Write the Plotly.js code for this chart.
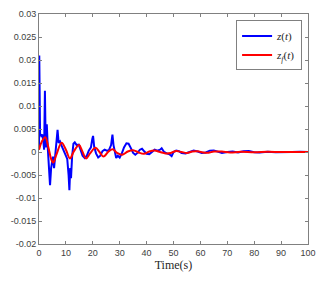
<!DOCTYPE html>
<html><head><meta charset="utf-8">
<script src="https://cdn.plot.ly/plotly-3.0.1.min.js"></script>
<style>html,body{margin:0;padding:0;background:#fff;}#chart{width:327px;height:286px;}</style>
</head><body><div id="chart"></div>
<script>
// Time samples and values for z(t) (blue)
var tZ = [0,0.1,0.4,0.8,1.2,1.6,1.9,2.2,2.5,2.9,3.3,3.7,4.1,4.5,4.8,5.2,5.6,6.0,6.5,6.9,7.3,7.8,8.3,9,9.8,10.5,11.0,11.3,11.6,11.9,12.3,12.8,13.3,14,14.8,15.5,16.2,17,17.8,18.5,19.3,19.8,20.1,20.5,21.2,22,22.8,23.6,24.4,25.2,26,26.8,27.3,27.7,28.2,28.7,29.3,30,30.8,31.6,32.5,33.3,34.2,35,35.8,36.6,37.5,38.3,39.2,40,41,42,43,44,45,45.6,46.5,47.5,48.5,49.3,50,51,52,53,54.5,56,57.5,59,60.5,62,63.5,65,66.5,68,70,72,74,76,78,80,82,85,88,91,94,97,100];
var zVals = [0.0008,0.021,0.004,0.0035,0.0038,0.0025,0.0005,0.0133,0.001,0.006,0.0005,-0.004,-0.0072,-0.0035,-0.002,-0.001,-0.0035,-0.001,0.0025,0.0048,0.002,0.0023,0.0015,0.0005,-0.0005,-0.0015,-0.005,-0.0083,-0.0035,-0.0057,-0.001,0.0018,0.0021,0.0015,0.0016,0.0005,-0.0008,-0.0013,-0.0008,0.0003,0.001,0.0028,0.0035,0.0012,-0.0003,-0.0012,-0.0008,0.0002,0.0005,0.0003,0.0004,0.0015,0.0038,0.0015,0.0003,-0.0013,-0.0008,-0.0012,-0.0003,0.001,0.0019,0.0018,0.0008,-0.0002,-0.0006,-0.0002,0.0005,0.0007,0.0001,-0.0004,-0.0005,0.0,0.0005,0.0003,0.0005,0.0008,0.0,-0.0003,-0.0005,-0.0009,0.0,0.0003,0.0002,-0.0002,-0.0003,0.0,0.0003,0.0001,-0.0002,-0.0001,0.0003,0.00035,0.0,-0.0002,0.0,0.0001,-0.0001,0.00015,0.0002,-0.00005,-0.0001,0.00005,-0.00005,0.00005,0.0,0.00005,0.0];
// Time samples and values for z_f(t) (red)
var tZf = [0,1,2.3,3.5,4.5,5.3,6.5,8.4,10,11.5,13,14.9,16,17.5,19,21,22.5,24,26,27.5,29,31,33,35,37,39,41,43,45,47,49,51,53,55,57,59,61,63,65,68,71,75,80,85,90,95,100];
var zfVals = [0.0005,0.0022,0.0032,0.001,-0.0015,-0.0023,-0.0005,0.002,0.0005,-0.0014,0.0002,0.0015,0.0003,-0.0014,-0.0003,0.0009,0.0,-0.001,0.0002,0.0006,-0.0002,-0.0006,0.0001,0.0004,-0.0001,-0.0004,0.0001,0.0003,0.0,-0.0003,-0.0002,0.0002,0.0,-0.0002,0.0001,0.00015,-0.0001,-0.00015,0.0001,0.0001,-0.0001,0.00005,-0.00005,0.00005,0.0,0.00002,0.0];
var xTicks = [0,10,20,30,40,50,60,70,80,90,100];
var yTicks = [-0.02,-0.015,-0.01,-0.005,0,0.005,0.01,0.015,0.02,0.025,0.03];
var yTickText = ['-0.02','-0.015','-0.01','-0.005','0','0.005','0.01','0.015','0.02','0.025','0.03'];

var traces = [
  {x:tZ, y:zVals, type:'scatter', mode:'lines', name:'<i>z</i>(<i>t</i>)',
   line:{color:'#0000ff', width:2}},
  {x:tZf, y:zfVals, type:'scatter', mode:'lines', name:'<i>z<sub>f</sub></i>(<i>t</i>)',
   line:{color:'#ff0000', width:2, shape:'spline', smoothing:1}}
];
var axisCommon = {showgrid:false, zeroline:false, showline:true, mirror:'ticks',
  linecolor:'#808080', linewidth:1, ticks:'inside', ticklen:3, tickcolor:'#808080',
  tickfont:{family:'Liberation Sans, Arial, sans-serif', size:9, color:'#404040'}};
var layout = {
  width:327, height:286,
  margin:{l:39, r:19, t:14, b:42},
  paper_bgcolor:'#fff', plot_bgcolor:'#fff',
  showlegend:true,
  xaxis: Object.assign({}, axisCommon, {range:[0,100], tickvals:xTicks,
     title:{text:'Time(s)', font:{family:'Liberation Serif, DejaVu Serif, serif', size:12, color:'#262626'}, standoff:2}}),
  yaxis: Object.assign({}, axisCommon, {range:[-0.02,0.03], tickvals:yTicks, ticktext:yTickText}),
  legend:{x:0.978, y:0.972, xanchor:'right', yanchor:'top', bgcolor:'#fff',
    bordercolor:'#808080', borderwidth:1,
    font:{family:'Liberation Serif, DejaVu Serif, serif', size:11, color:'#262626'},
    tracegroupgap:0, itemwidth:30}
};
Plotly.newPlot('chart', traces, layout, {displayModeBar:false, staticPlot:true});
</script></body></html>
